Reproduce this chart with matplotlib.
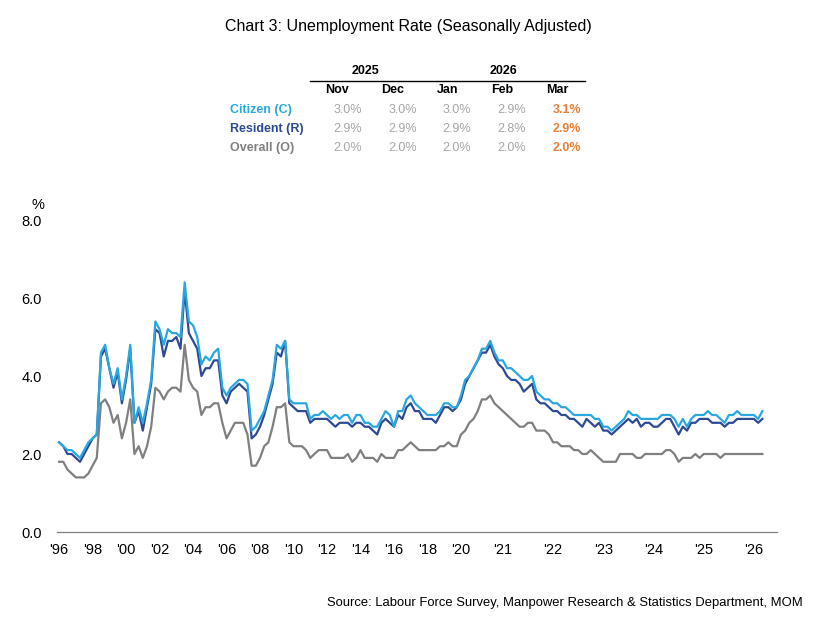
import matplotlib
matplotlib.use("Agg")
import matplotlib.pyplot as plt
from matplotlib.lines import Line2D

plt.rcParams['font.family'] = ['Liberation Sans', 'DejaVu Sans']

# quarterly up to 2020Q1, monthly from Apr 2020 to Mar 2026
periods = ["%dQ%d" % (y, q) for y in range(1996, 2020) for q in range(1, 5)] + ["2020Q1"]
periods += ["2020-%02d" % m for m in range(4, 13)]
periods += ["%d-%02d" % (y, m) for y in range(2021, 2026) for m in range(1, 13)]
periods += ["2026-01", "2026-02", "2026-03"]

citizen = [2.3, 2.2, 2.1, 2.1, 2.0, 1.9, 2.1, 2.3, 2.4, 2.5,
           4.6, 4.8, 4.2, 3.8, 4.2, 3.4, 4.0, 4.8, 2.8, 3.2,
           2.8, 3.3, 3.9, 5.4, 5.2, 4.8, 5.2, 5.1, 5.1, 5.0,
           6.4, 5.4, 5.3, 5.0, 4.3, 4.5, 4.4, 4.6, 4.7, 3.7,
           3.5, 3.7, 3.8, 3.9, 3.9, 3.8, 2.6, 2.7, 2.9, 3.1,
           3.5, 3.9, 4.8, 4.7, 4.9, 3.4, 3.3, 3.3, 3.3, 3.3,
           2.9, 3.0, 3.0, 3.1, 3.0, 2.9, 3.0, 2.9, 3.0, 3.0,
           2.8, 3.0, 3.0, 2.8, 2.8, 2.7, 2.7, 2.9, 3.1, 3.0,
           2.7, 3.1, 3.1, 3.4, 3.5, 3.3, 3.2, 3.1, 3.0, 3.0,
           3.0, 3.1, 3.3, 3.3, 3.2, 3.2, 3.5, 3.9, 4.0, 4.2,
           4.4, 4.7, 4.7, 4.9, 4.6, 4.4, 4.4, 4.2, 4.2, 4.1,
           4.0, 3.9, 3.9, 4.0, 3.6, 3.5, 3.4, 3.4, 3.3, 3.3,
           3.2, 3.2, 3.1, 3.0, 3.0, 3.0, 3.0, 3.0, 2.9, 2.9,
           2.7, 2.7, 2.6, 2.7, 2.8, 2.9, 3.1, 3.0, 3.0, 2.9,
           2.9, 2.9, 2.9, 2.9, 3.0, 3.0, 3.0, 2.9, 2.7, 2.9,
           2.7, 2.9, 3.0, 3.0, 3.0, 3.1, 3.0, 3.0, 2.9, 2.8,
           3.0, 3.0, 3.1, 3.0, 3.0, 3.0, 3.0, 2.9, 3.1]

resident = [2.3, 2.2, 2.0, 2.0, 1.9, 1.8, 2.0, 2.2, 2.4, 2.5,
            4.5, 4.7, 4.2, 3.7, 4.1, 3.3, 3.9, 4.7, 2.8, 3.1,
            2.6, 3.2, 3.8, 5.2, 5.1, 4.5, 4.9, 4.9, 5.0, 4.7,
            6.2, 5.1, 4.9, 4.7, 4.0, 4.2, 4.2, 4.4, 4.4, 3.5,
            3.3, 3.6, 3.7, 3.8, 3.7, 3.6, 2.4, 2.5, 2.7, 3.0,
            3.4, 3.8, 4.6, 4.5, 4.9, 3.3, 3.2, 3.1, 3.1, 3.1,
            2.8, 2.9, 2.9, 2.9, 2.9, 2.8, 2.7, 2.8, 2.8, 2.8,
            2.7, 2.8, 2.8, 2.7, 2.7, 2.6, 2.5, 2.8, 2.9, 2.8,
            2.7, 3.0, 2.9, 3.2, 3.3, 3.1, 3.1, 2.9, 2.9, 2.9,
            2.8, 3.0, 3.2, 3.2, 3.1, 3.2, 3.4, 3.8, 4.0, 4.2,
            4.4, 4.6, 4.6, 4.8, 4.5, 4.3, 4.2, 4.0, 3.9, 3.9,
            3.8, 3.6, 3.7, 3.8, 3.4, 3.3, 3.3, 3.2, 3.1, 3.1,
            3.0, 3.0, 2.9, 2.9, 2.8, 2.7, 2.9, 2.8, 2.7, 2.8,
            2.6, 2.6, 2.5, 2.6, 2.7, 2.8, 2.9, 2.8, 2.9, 2.7,
            2.8, 2.8, 2.7, 2.7, 2.8, 2.9, 2.9, 2.7, 2.5, 2.7,
            2.6, 2.8, 2.8, 2.9, 2.9, 2.9, 2.8, 2.8, 2.8, 2.7,
            2.8, 2.8, 2.9, 2.9, 2.9, 2.9, 2.9, 2.8, 2.9]

overall = [1.8, 1.8, 1.6, 1.5, 1.4, 1.4, 1.4, 1.5, 1.7, 1.9,
           3.3, 3.4, 3.2, 2.8, 3.0, 2.4, 2.8, 3.4, 2.0, 2.2,
           1.9, 2.2, 2.7, 3.7, 3.6, 3.4, 3.6, 3.7, 3.7, 3.6,
           4.8, 3.9, 3.7, 3.6, 3.0, 3.2, 3.2, 3.3, 3.3, 2.8,
           2.4, 2.6, 2.8, 2.8, 2.8, 2.5, 1.7, 1.7, 1.9, 2.2,
           2.3, 2.7, 3.2, 3.2, 3.3, 2.3, 2.2, 2.2, 2.2, 2.1,
           1.9, 2.0, 2.1, 2.1, 2.1, 1.9, 1.9, 1.9, 1.9, 2.0,
           1.8, 1.9, 2.1, 1.9, 1.9, 1.9, 1.8, 2.0, 1.9, 1.9,
           1.9, 2.1, 2.1, 2.2, 2.3, 2.2, 2.1, 2.1, 2.1, 2.1,
           2.1, 2.2, 2.2, 2.3, 2.2, 2.2, 2.5, 2.6, 2.8, 2.9,
           3.1, 3.4, 3.4, 3.5, 3.3, 3.2, 3.1, 3.0, 2.9, 2.8,
           2.7, 2.7, 2.8, 2.8, 2.6, 2.6, 2.6, 2.5, 2.3, 2.3,
           2.2, 2.2, 2.2, 2.1, 2.1, 2.0, 2.0, 2.1, 2.0, 1.9,
           1.8, 1.8, 1.8, 1.8, 2.0, 2.0, 2.0, 2.0, 1.9, 1.9,
           2.0, 2.0, 2.0, 2.0, 2.0, 2.1, 2.1, 2.0, 1.8, 1.9,
           1.9, 1.9, 2.0, 1.9, 2.0, 2.0, 2.0, 2.0, 1.9, 2.0,
           2.0, 2.0, 2.0, 2.0, 2.0, 2.0, 2.0, 2.0, 2.0]

# summary table
tbl_months = ["Nov", "Dec", "Jan", "Feb", "Mar"]
tbl_years = ["2025", "2026"]
tbl_rows = ["Citizen (C)", "Resident (R)", "Overall (O)"]
tbl_vals = [["3.0%", "3.0%", "3.0%", "2.9%", "3.1%"],
            ["2.9%", "2.9%", "2.9%", "2.8%", "2.9%"],
            ["2.0%", "2.0%", "2.0%", "2.0%", "2.0%"]]

tick_years = list(range(1996, 2021, 2)) + list(range(2021, 2027))

C_CIT = "#29A8E0"
C_RES = "#2E4A94"
C_OVR = "#808080"
C_VAL = "#A6A6A6"
C_ORG = "#E8803A"

W, H = 840, 628
fig = plt.figure(figsize=(W / 100, H / 100), dpi=100)

def fx(x):
    return x / W

def fy(y):
    return 1 - y / H

ax = fig.add_axes([fx(57), fy(532), (777 - 57) / W, (532 - 220) / H])
x = list(range(len(periods)))
ax.plot(x, overall, color=C_OVR, lw=1.6)
ax.plot(x, resident, color=C_RES, lw=1.6)
ax.plot(x, citizen, color=C_CIT, lw=1.6)

ax.set_ylim(0, 8)
ax.set_xlim(-0.5, 171.5)
ax.set_yticks([0, 2, 4, 6, 8])
ax.set_yticklabels(["0.0", "2.0", "4.0", "6.0", "8.0"], fontsize=10.5)
pos, labs = [], []
for y in tick_years:
    key = "%dQ1" % y if y <= 2020 else "%d-01" % y
    pos.append(periods.index(key))
    labs.append("'%02d" % (y % 100))
ax.set_xticks(pos)
ax.set_xticklabels(labs, fontsize=10.5)
ax.tick_params(axis='both', length=0)
ax.tick_params(axis='y', pad=11)
ax.tick_params(axis='x', pad=8)
for s in ['top', 'right', 'left']:
    ax.spines[s].set_visible(False)
ax.spines['bottom'].set_color('#7F7F7F')
ax.spines['bottom'].set_linewidth(0.9)

fig.text(fx(38), fy(205), "%", ha='center', va='center', fontsize=10.5)

fig.text(fx(408), fy(26), "Chart 3: Unemployment Rate (Seasonally Adjusted)",
         ha='center', va='center', fontsize=11.5)

# table
fig.text(fx(365), fy(71), tbl_years[0], ha='center', va='center', fontsize=9, fontweight='bold')
fig.text(fx(503), fy(71), tbl_years[1], ha='center', va='center', fontsize=9, fontweight='bold')
fig.add_artist(Line2D([fx(310), fx(585)], [fy(80.5), fy(80.5)], color='black', lw=1.0,
                      transform=fig.transFigure))
month_x = [337, 393, 448, 502, 557]
val_right = [362, 417, 471, 526, 581]
for mx, m in zip(month_x, tbl_months):
    fig.text(fx(mx), fy(90), m, ha='center', va='center', fontsize=9, fontweight='bold')
row_y = [110, 129, 148]
row_col = [C_CIT, C_RES, C_OVR]
for ry, name, col, vals in zip(row_y, tbl_rows, row_col, tbl_vals):
    fig.text(fx(230), fy(ry), name, ha='left', va='center', fontsize=9,
             fontweight='bold', color=col)
    for j, (vr, v) in enumerate(zip(val_right, vals)):
        if j == len(vals) - 1:
            fig.text(fx(vr), fy(ry), v, ha='right', va='center', fontsize=9,
                     fontweight='bold', color=C_ORG)
        else:
            fig.text(fx(vr), fy(ry), v, ha='right', va='center', fontsize=9, color=C_VAL)

fig.text(fx(803), fy(603),
         "Source: Labour Force Survey, Manpower Research & Statistics Department, MOM",
         ha='right', va='center', fontsize=9.4)

fig.savefig("out.png", dpi=100)
